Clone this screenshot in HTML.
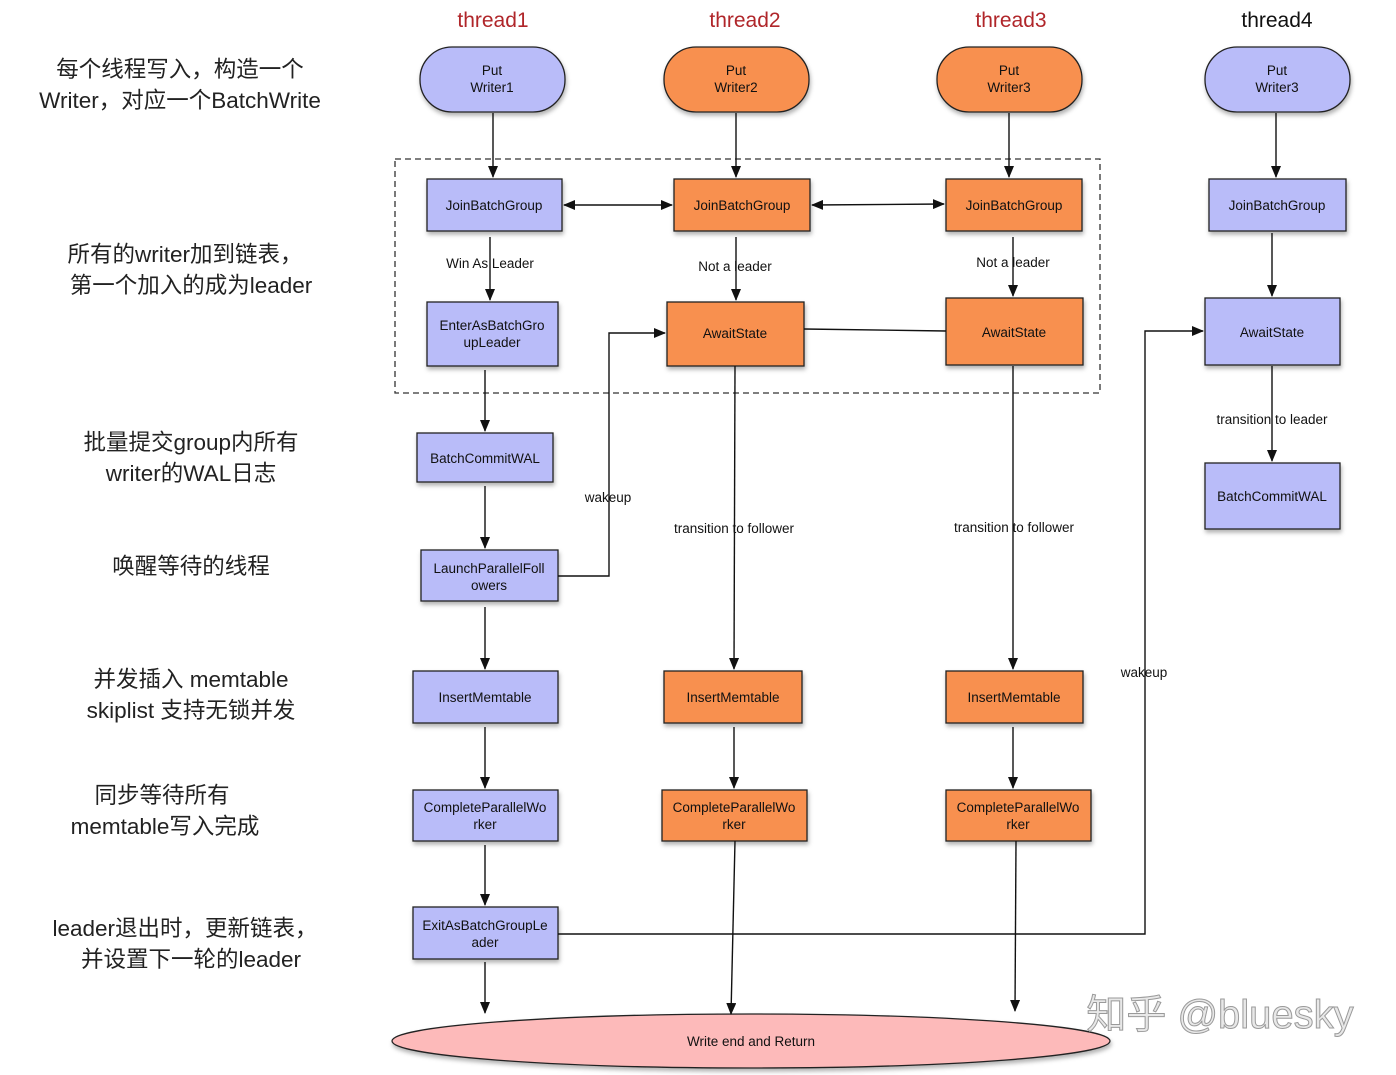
<!DOCTYPE html>
<html><head><meta charset="utf-8"><style>
body{margin:0;background:#fff}
svg{display:block}
.b{fill:#b9bcf9;stroke:#222;stroke-width:1.3}
.o{fill:#f8904f;stroke:#222;stroke-width:1.3}
.t{font-family:"Liberation Sans",sans-serif;font-size:13.5px;fill:#111;text-anchor:middle}
.l{font-family:"Liberation Sans",sans-serif;font-size:13.5px;fill:#111;text-anchor:middle}
.cn{font-family:"Liberation Sans","Noto Sans CJK SC",sans-serif;font-size:22.5px;fill:#222;text-anchor:middle}
.th{font-family:"Liberation Sans",sans-serif;font-size:21px;text-anchor:middle}
.c{stroke:#111;stroke-width:1.4;fill:none}
</style></head><body>
<svg width="1396" height="1075" viewBox="0 0 1396 1075" xmlns="http://www.w3.org/2000/svg">
<defs>
<marker id="a" markerWidth="12" markerHeight="10" refX="11" refY="5" orient="auto" markerUnits="userSpaceOnUse"><path d="M0,0 L12,5 L0,10 z" fill="#111"/></marker>
<marker id="s" markerWidth="12" markerHeight="10" refX="1" refY="5" orient="auto" markerUnits="userSpaceOnUse"><path d="M12,0 L0,5 L12,10 z" fill="#111"/></marker>
<filter id="sh" x="-10%" y="-10%" width="130%" height="140%"><feDropShadow dx="1" dy="3" stdDeviation="2" flood-color="#000" flood-opacity="0.3"/></filter>
</defs>

<text class="th" x="493" y="27" fill="#b0262a">thread1</text>
<text class="th" x="745" y="27" fill="#b0262a">thread2</text>
<text class="th" x="1011" y="27" fill="#b0262a">thread3</text>
<text class="th" x="1277" y="27" fill="#111">thread4</text>

<text class="cn" x="180" y="77">每个线程写入，构造一个</text>
<text class="cn" x="180" y="108">Writer，对应一个BatchWrite</text>
<text class="cn" x="185" y="262">所有的writer加到链表，</text>
<text class="cn" x="191" y="293">第一个加入的成为leader</text>
<text class="cn" x="191" y="450">批量提交group内所有</text>
<text class="cn" x="191" y="481">writer的WAL日志</text>
<text class="cn" x="191" y="574">唤醒等待的线程</text>
<text class="cn" x="191" y="687">并发插入 memtable</text>
<text class="cn" x="191" y="718">skiplist 支持无锁并发</text>
<text class="cn" x="162" y="803">同步等待所有</text>
<text class="cn" x="165" y="834">memtable写入完成</text>
<text class="cn" x="185" y="936">leader退出时，更新链表，</text>
<text class="cn" x="191" y="967">并设置下一轮的leader</text>

<rect x="395" y="159" width="705" height="234" fill="none" stroke="#333" stroke-width="1.3" stroke-dasharray="6,4"/>

<g filter="url(#sh)">
<rect class="b" x="420" y="47" width="145" height="65" rx="32"/>
<rect class="o" x="664" y="47" width="145" height="65" rx="32"/>
<rect class="o" x="937" y="47" width="145" height="65" rx="32"/>
<rect class="b" x="1205" y="47" width="145" height="65" rx="32"/>

<rect class="b" x="427" y="179" width="135" height="52"/>
<rect class="b" x="427" y="302" width="131" height="64"/>
<rect class="b" x="417" y="433" width="136" height="49"/>
<rect class="b" x="421" y="550" width="137" height="51"/>
<rect class="b" x="413" y="671" width="145" height="52"/>
<rect class="b" x="413" y="790" width="145" height="51"/>
<rect class="b" x="413" y="907" width="145" height="52"/>

<rect class="o" x="674" y="179" width="136" height="52"/>
<rect class="o" x="667" y="302" width="137" height="64"/>
<rect class="o" x="664" y="671" width="138" height="52"/>
<rect class="o" x="662" y="790" width="145" height="51"/>

<rect class="o" x="946" y="179" width="136" height="52"/>
<rect class="o" x="946" y="298" width="137" height="67"/>
<rect class="o" x="946" y="671" width="137" height="52"/>
<rect class="o" x="946" y="790" width="145" height="51"/>

<rect class="b" x="1209" y="179" width="137" height="52"/>
<rect class="b" x="1205" y="298" width="135" height="67"/>
<rect class="b" x="1205" y="463" width="135" height="66"/>

<ellipse cx="751" cy="1041" rx="359" ry="27" fill="#fdbaba" stroke="#222" stroke-width="1.3"/>
</g>

<text class="t" x="492" y="75">Put</text><text class="t" x="492" y="92">Writer1</text>
<text class="t" x="736" y="75">Put</text><text class="t" x="736" y="92">Writer2</text>
<text class="t" x="1009" y="75">Put</text><text class="t" x="1009" y="92">Writer3</text>
<text class="t" x="1277" y="75">Put</text><text class="t" x="1277" y="92">Writer3</text>

<text class="t" x="494" y="210">JoinBatchGroup</text>
<text class="t" x="492" y="330">EnterAsBatchGro</text><text class="t" x="492" y="347">upLeader</text>
<text class="t" x="485" y="463">BatchCommitWAL</text>
<text class="t" x="489" y="573">LaunchParallelFoll</text><text class="t" x="489" y="590">owers</text>
<text class="t" x="485" y="702">InsertMemtable</text>
<text class="t" x="485" y="812">CompleteParallelWo</text><text class="t" x="485" y="829">rker</text>
<text class="t" x="485" y="930">ExitAsBatchGroupLe</text><text class="t" x="485" y="947">ader</text>

<text class="t" x="742" y="210">JoinBatchGroup</text>
<text class="t" x="735" y="338">AwaitState</text>
<text class="t" x="733" y="702">InsertMemtable</text>
<text class="t" x="734" y="812">CompleteParallelWo</text><text class="t" x="734" y="829">rker</text>

<text class="t" x="1014" y="210">JoinBatchGroup</text>
<text class="t" x="1014" y="337">AwaitState</text>
<text class="t" x="1014" y="702">InsertMemtable</text>
<text class="t" x="1018" y="812">CompleteParallelWo</text><text class="t" x="1018" y="829">rker</text>

<text class="t" x="1277" y="210">JoinBatchGroup</text>
<text class="t" x="1272" y="337">AwaitState</text>
<text class="t" x="1272" y="501">BatchCommitWAL</text>

<text class="t" x="751" y="1046">Write end and Return</text>

<line class="c" x1="493" y1="113" x2="493" y2="177" marker-end="url(#a)"/>
<line class="c" x1="736" y1="113" x2="736" y2="177" marker-end="url(#a)"/>
<line class="c" x1="1009" y1="113" x2="1009" y2="177" marker-end="url(#a)"/>
<line class="c" x1="1276" y1="113" x2="1276" y2="177" marker-end="url(#a)"/>
<line class="c" x1="564" y1="205" x2="672" y2="205" marker-start="url(#s)" marker-end="url(#a)"/>
<line class="c" x1="812" y1="205" x2="944" y2="204" marker-start="url(#s)" marker-end="url(#a)"/>
<line class="c" x1="490" y1="237" x2="490" y2="300" marker-end="url(#a)"/>
<line class="c" x1="736" y1="237" x2="736" y2="300" marker-end="url(#a)"/>
<line class="c" x1="1013" y1="237" x2="1013" y2="296" marker-end="url(#a)"/>
<line class="c" x1="804" y1="329" x2="946" y2="331"/>
<line class="c" x1="485" y1="370" x2="485" y2="431" marker-end="url(#a)"/>
<line class="c" x1="485" y1="486" x2="485" y2="548" marker-end="url(#a)"/>
<polyline class="c" points="558,576 609,576 609,333 665,333" marker-end="url(#a)"/>
<line class="c" x1="735" y1="366" x2="734" y2="669" marker-end="url(#a)"/>
<line class="c" x1="1013" y1="366" x2="1013" y2="669" marker-end="url(#a)"/>
<line class="c" x1="1272" y1="233" x2="1272" y2="296" marker-end="url(#a)"/>
<line class="c" x1="1272" y1="366" x2="1272" y2="461" marker-end="url(#a)"/>
<line class="c" x1="485" y1="607" x2="485" y2="669" marker-end="url(#a)"/>
<line class="c" x1="485" y1="727" x2="485" y2="788" marker-end="url(#a)"/>
<line class="c" x1="734" y1="727" x2="734" y2="788" marker-end="url(#a)"/>
<line class="c" x1="1013" y1="727" x2="1013" y2="788" marker-end="url(#a)"/>
<line class="c" x1="485" y1="845" x2="485" y2="905" marker-end="url(#a)"/>
<polyline class="c" points="558,934 1145,934 1145,331 1203,331" marker-end="url(#a)"/>
<line class="c" x1="485" y1="962" x2="485" y2="1013" marker-end="url(#a)"/>
<line class="c" x1="735" y1="841" x2="731" y2="1014" marker-end="url(#a)"/>
<line class="c" x1="1016" y1="841" x2="1015" y2="1011" marker-end="url(#a)"/>

<text class="l" x="490" y="268">Win As Leader</text>
<text class="l" x="735" y="271">Not a leader</text>
<text class="l" x="1013" y="267">Not a leader</text>
<text class="l" x="608" y="502">wakeup</text>
<text class="l" x="734" y="533">transition to follower</text>
<text class="l" x="1014" y="532">transition to follower</text>
<text class="l" x="1272" y="424">transition to leader</text>
<text class="l" x="1144" y="677">wakeup</text>

<text x="1220" y="1028" font-family="Liberation Sans,Noto Sans CJK SC,sans-serif" font-size="40" fill="#e8e8e8" stroke="#9a9a9a" stroke-width="1" text-anchor="middle">知乎 @bluesky</text>
</svg>
</body></html>
